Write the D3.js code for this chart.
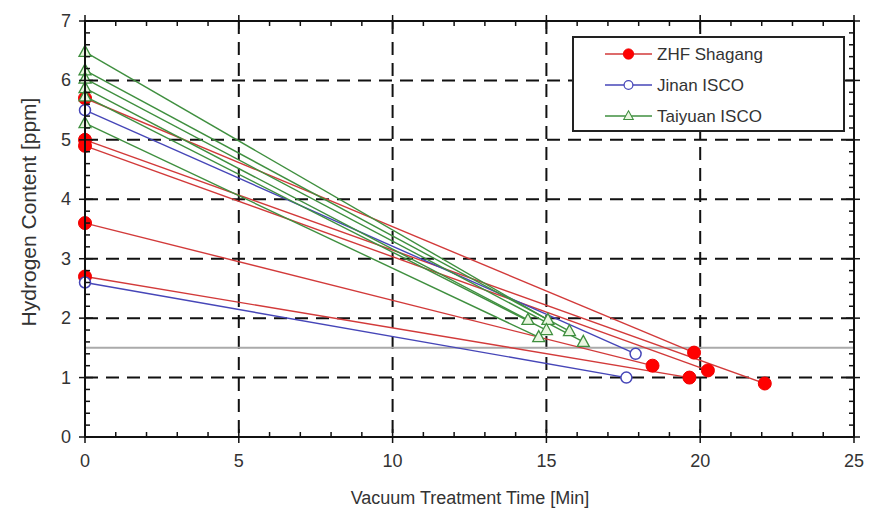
<!DOCTYPE html>
<html>
<head>
<meta charset="utf-8">
<script src="https://cdn.jsdelivr.net/npm/d3@7"></script>
<style>
	body { margin: 0; background: #fff; }
	svg { font-family: 'Liberation Sans', Arial, sans-serif; }
</style>
</head>
<body>
<svg id="chart" width="872" height="515"></svg>
<script>
// each run: [start x, start y, end x, end y]
const zhfRuns = [
	[0, 5.70, 19.8, 1.42],
	[0, 5.00, 22.1, 0.90],
	[0, 4.90, 20.25, 1.12],
	[0, 3.60, 18.45, 1.20],
	[0, 2.70, 19.65, 1.00]
];
const jinanRuns = [
	[0, 5.50, 17.9, 1.40],
	[0, 2.60, 17.6, 1.00]
];
const taiyuanRuns = [
	[0, 6.48, 15.05, 1.97],
	[0, 6.17, 15.75, 1.78],
	[0, 6.03, 16.2, 1.60],
	[0, 5.87, 14.4, 1.97],
	[0, 5.73, 15.0, 1.80],
	[0, 5.28, 14.75, 1.68]
];
const xTicks = [0, 5, 10, 15, 20, 25];
const yTicks = [0, 1, 2, 3, 4, 5, 6, 7];
const limitLine = 1.5;
const legendNames = ['ZHF Shagang', 'Jinan ISCO', 'Taiyuan ISCO'];

const svg = d3.select('#chart');
const plotL = 85, plotR = 854, plotT = 21, plotB = 437;

const x = d3.scaleLinear().domain([0, 25]).range([plotL, plotR]);
const y = d3.scaleLinear().domain([0, 7]).range([plotB, plotT]);

const series = [
	{name: legendNames[0], runs: zhfRuns, line: '#d23a3a', marker: 'dot'},
	{name: legendNames[1], runs: jinanRuns, line: '#4646b8', marker: 'ring'},
	{name: legendNames[2], runs: taiyuanRuns, line: '#3f8f3f', marker: 'tri'}
];

// dashed grid
const grid = svg.append('g').attr('class', 'grid')
	.attr('stroke', '#111').attr('stroke-width', 2).attr('stroke-dasharray', '13,8');
grid.selectAll('.gx').data(xTicks.slice(1, -1)).enter().append('line')
	.attr('x1', d => x(d)).attr('x2', d => x(d)).attr('y1', plotT).attr('y2', plotB);
grid.selectAll('.gy').data(yTicks.slice(1, -1)).enter().append('line')
	.attr('y1', d => y(d)).attr('y2', d => y(d)).attr('x1', plotL).attr('x2', plotR);

// limit line
svg.append('line')
	.attr('x1', plotL).attr('x2', plotR)
	.attr('y1', y(limitLine)).attr('y2', y(limitLine))
	.attr('stroke', '#aaa').attr('stroke-width', 2);

function drawMarker(g, type, color) {
	if (type === 'dot') {
		g.append('circle').attr('r', 6.5).attr('fill', '#f00').attr('stroke', '#e00');
	} else if (type === 'ring') {
		g.append('circle').attr('r', 5.5).attr('fill', '#fff').attr('stroke', color).attr('stroke-width', 1.5);
	} else {
		g.append('path').attr('d', 'M0,-6.5L6,4.5L-6,4.5Z')
			.attr('fill', '#eaf6e0').attr('stroke', color).attr('stroke-width', 1.3);
	}
}

series.forEach(s => {
	const g = svg.append('g').attr('class', 'series');
	g.selectAll('line').data(s.runs).enter().append('line')
		.attr('x1', d => x(d[0])).attr('y1', d => y(d[1]))
		.attr('x2', d => x(d[2])).attr('y2', d => y(d[3]))
		.attr('stroke', s.line).attr('stroke-width', 1.4);
	const pts = [];
	s.runs.forEach(d => { pts.push([d[0], d[1]]); pts.push([d[2], d[3]]); });
	g.selectAll('.m').data(pts).enter().append('g')
		.attr('transform', d => 'translate(' + x(d[0]) + ',' + y(d[1]) + ')')
		.each(function() { drawMarker(d3.select(this), s.marker, s.line); });
});

// frame
svg.append('rect')
	.attr('x', plotL).attr('y', plotT).attr('width', plotR - plotL).attr('height', plotB - plotT)
	.attr('fill', 'none').attr('stroke', '#111').attr('stroke-width', 2);

// axes with inward minor ticks
const xMinor = d3.range(0, 25.01, 1);
const yMinor = d3.range(0, 7.01, 0.2);
const ticks = svg.append('g').attr('stroke', '#111').attr('stroke-width', 1.5);
xMinor.forEach(v => {
	const major = xTicks.indexOf(v) !== -1;
	ticks.append('line').attr('x1', x(v)).attr('x2', x(v))
		.attr('y1', plotB + (major ? 6 : 0)).attr('y2', plotB - (major ? 8 : 5));
	ticks.append('line').attr('x1', x(v)).attr('x2', x(v))
		.attr('y1', plotT - (major ? 6 : 0)).attr('y2', plotT + (major ? 8 : 5));
});
yMinor.forEach(v => {
	const major = Math.abs(v - Math.round(v)) < 1e-6;
	ticks.append('line').attr('y1', y(v)).attr('y2', y(v))
		.attr('x1', plotL - (major ? 6 : 0)).attr('x2', plotL + (major ? 8 : 5));
	ticks.append('line').attr('y1', y(v)).attr('y2', y(v))
		.attr('x1', plotR + (major ? 6 : 0)).attr('x2', plotR - (major ? 8 : 5));
});

// tick labels
svg.append('g').selectAll('text').data(xTicks).enter().append('text')
	.attr('x', d => x(d)).attr('y', 467)
	.attr('text-anchor', 'middle').attr('font-size', 18).attr('fill', '#333')
	.text(d => d);
svg.append('g').selectAll('text').data(yTicks).enter().append('text')
	.attr('x', 71).attr('y', d => y(d) + 6)
	.attr('text-anchor', 'end').attr('font-size', 18).attr('fill', '#333')
	.text(d => d);

// axis titles
svg.append('text')
	.attr('x', 470).attr('y', 504).attr('text-anchor', 'middle')
	.attr('font-size', 18).attr('fill', '#333')
	.text('Vacuum Treatment Time [Min]');
svg.append('text')
	.attr('transform', 'translate(36,212) rotate(-90)').attr('text-anchor', 'middle')
	.attr('font-size', 21).attr('fill', '#333')
	.text('Hydrogen Content [ppm]');

// legend
const legend = svg.append('g').attr('class', 'legend');
legend.append('rect')
	.attr('x', 573).attr('y', 37).attr('width', 271).attr('height', 94)
	.attr('fill', '#fff').attr('stroke', '#222').attr('stroke-width', 2);
series.forEach((s, i) => {
	const ly = 54 + i * 31;
	const item = legend.append('g');
	item.append('line').attr('x1', 605).attr('x2', 652).attr('y1', ly).attr('y2', ly)
		.attr('stroke', s.line).attr('stroke-width', 1.5);
	const m = item.append('g').attr('transform', 'translate(628.5,' + ly + ') scale(0.8)');
	drawMarker(m, s.marker, s.line);
	item.append('text').attr('x', 657).attr('y', ly + 6)
		.attr('font-size', 17).attr('fill', '#333').text(s.name);
});
</script>
</body>
</html>
